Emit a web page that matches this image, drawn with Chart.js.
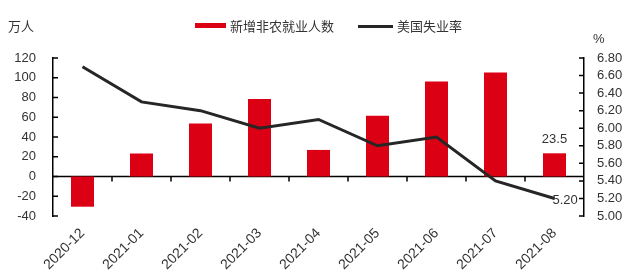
<!DOCTYPE html>
<html>
<head>
<meta charset="utf-8">
<script src="https://cdn.jsdelivr.net/npm/chart.js@4.4.1/dist/chart.umd.min.js"></script>
<style>
html, body { margin: 0; padding: 0; background: #fff; }
#wrap { width: 643px; height: 275px; }
</style>
</head>
<body>
<div id="wrap"><canvas id="chart"></canvas></div>
<script>
// data
const months = ['2020-12', '2021-01', '2021-02', '2021-03', '2021-04', '2021-05', '2021-06', '2021-07', '2021-08']
const payrolls = [-30.6, 23.3, 53.6, 78.5, 26.9, 61.4, 96.2, 105.3, 23.5]   // 万人
const unemployment = [6.7, 6.3, 6.2, 6.0, 6.1, 5.8, 5.9, 5.4, 5.2]         // %
const payrollLabel = '新增非农就业人数'
const rateLabel = '美国失业率'
const leftUnit = '万人'
const rightUnit = '%'

const FONT = '"Liberation Sans", "Noto Sans CJK SC", sans-serif'
const CJK = '"Noto Sans CJK SC", "Liberation Sans", sans-serif'
const RED = '#dc0014'
const DARK = '#262626'
const TEXT = '#333'

const decor = {
    id: 'decor',
    beforeDatasetsDraw(chart){
        const {ctx, chartArea: a, scales} = chart
        const zy = scales.y.getPixelForValue(0)
        ctx.save()
        ctx.strokeStyle = '#000'
        ctx.lineWidth = 1.5
        ctx.beginPath()
        ctx.moveTo(a.left, zy)
        ctx.lineTo(a.right, zy)
        // category boundary ticks hanging from the zero line
        for(let i = 1; i < months.length; i++){
            const px = (scales.x.getPixelForValue(i - 1) + scales.x.getPixelForValue(i)) / 2
            ctx.moveTo(px, zy)
            ctx.lineTo(px, zy + 5)
        }
        ctx.stroke()
        ctx.restore()
    },
    afterDraw(chart){
        const {ctx, chartArea: a, scales} = chart
        ctx.save()
        // inward tick marks on both value axes
        ctx.strokeStyle = '#000'
        ctx.lineWidth = 1.5
        ctx.beginPath()
        scales.y.ticks.forEach((t, i) => {
            const py = scales.y.getPixelForTick(i)
            ctx.moveTo(a.left, py)
            ctx.lineTo(a.left + 5, py)
        })
        scales.y1.ticks.forEach((t, i) => {
            const py = scales.y1.getPixelForTick(i)
            ctx.moveTo(a.right, py)
            ctx.lineTo(a.right - 5, py)
        })
        ctx.stroke()

        // legend
        ctx.fillStyle = RED
        ctx.fillRect(195, 23, 31, 5)
        ctx.strokeStyle = DARK
        ctx.lineWidth = 3
        ctx.beginPath()
        ctx.moveTo(358, 26.5)
        ctx.lineTo(393, 26.5)
        ctx.stroke()
        ctx.fillStyle = TEXT
        ctx.font = `13px ${CJK}`
        ctx.textBaseline = 'middle'
        ctx.textAlign = 'left'
        ctx.fillText(payrollLabel, 230, 26)
        ctx.fillText(rateLabel, 397, 26)
        ctx.fillText(leftUnit, 8, 26)
        ctx.font = `13px ${FONT}`
        ctx.fillText(rightUnit, 593, 39)

        // value labels on the last month
        const last = months.length - 1
        const bar = chart.getDatasetMeta(0).data[last]
        const pt = chart.getDatasetMeta(1).data[last]
        ctx.font = `13px ${FONT}`
        ctx.textAlign = 'center'
        ctx.textBaseline = 'bottom'
        ctx.fillText(payrolls[last].toFixed(1), bar.x, bar.y - 7)
        ctx.textAlign = 'left'
        ctx.textBaseline = 'middle'
        ctx.fillText(unemployment[last].toFixed(2), pt.x - 2, pt.y + 2)
        ctx.restore()
    }
}

new Chart(document.querySelector('#chart'), {
    data: {
        labels: months,
        datasets: [{
            type: 'bar',
            label: payrollLabel,
            data: payrolls,
            backgroundColor: RED,
            barPercentage: 0.39,
            categoryPercentage: 1,
            yAxisID: 'y',
            order: 1
        }, {
            type: 'line',
            label: rateLabel,
            data: unemployment,
            borderColor: DARK,
            borderWidth: 3,
            pointRadius: 0,
            tension: 0,
            yAxisID: 'y1',
            order: 0
        }]
    },
    options: {
        responsive: true,
        maintainAspectRatio: false,
        animation: false,
        layout: { padding: { top: 58, left: 0, right: 0, bottom: 0 } },
        plugins: { legend: { display: false }, tooltip: { enabled: false } },
        scales: {
            x: {
                offset: true,
                grid: { display: false, drawTicks: false },
                border: { display: false },
                ticks: { autoSkip: false, maxRotation: 45, minRotation: 45, padding: 9, color: TEXT, font: { family: FONT, size: 14 } },
                afterFit(s){ s.height = 59 }
            },
            y: {
                position: 'left',
                min: -40, max: 120,
                grid: { display: false, drawTicks: false },
                border: { display: true, color: '#000', width: 1.5 },
                ticks: { autoSkip: false, stepSize: 20, padding: 17, color: TEXT, font: { family: FONT, size: 13 } },
                afterFit(s){ s.width = 53 }
            },
            y1: {
                position: 'right',
                min: 5.0, max: 6.8,
                grid: { display: false, drawTicks: false },
                border: { display: true, color: '#000', width: 1.5 },
                ticks: { autoSkip: false, stepSize: 0.2, padding: 13, color: TEXT, font: { family: FONT, size: 13 }, callback: v => Number(v).toFixed(2) },
                afterFit(s){ s.width = 59 }
            }
        }
    },
    plugins: [decor]
})
</script>
</body>
</html>
